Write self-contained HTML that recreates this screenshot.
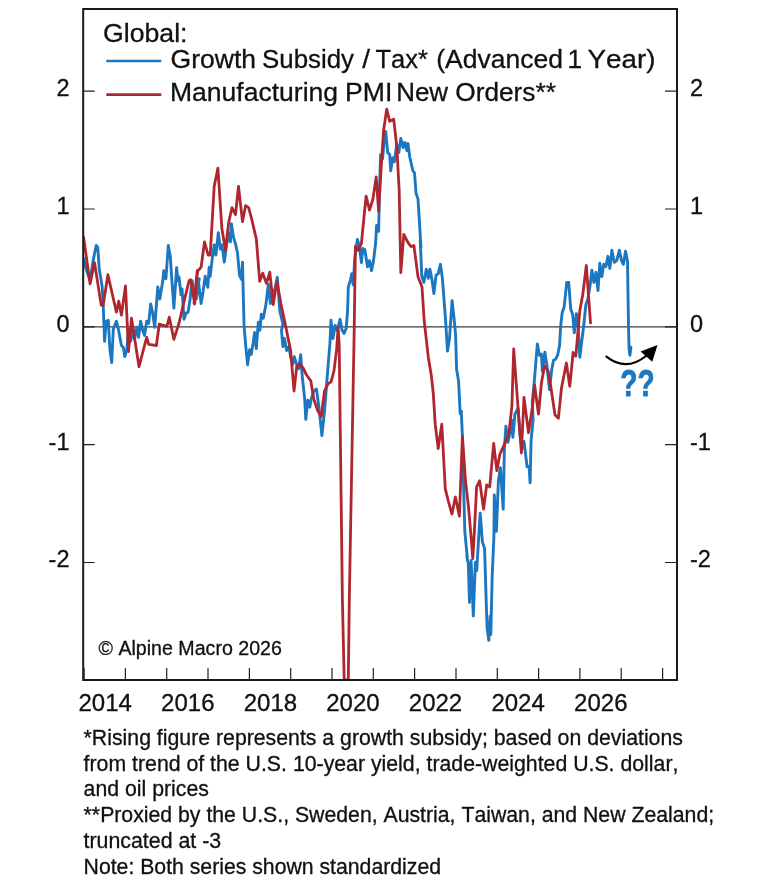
<!DOCTYPE html>
<html lang="en"><head><meta charset="utf-8"><title>Global Growth Subsidy / Tax vs Manufacturing PMI New Orders</title>
<style>html,body{margin:0;padding:0;background:#fff}body{width:768px;height:891px;overflow:hidden}</style></head>
<body>
<svg width="768" height="891" viewBox="0 0 768 891" style="display:block">
<rect width="768" height="891" fill="#fff"/>
<defs><clipPath id="cp"><rect x="83.2" y="9" width="593.8" height="671"/></clipPath></defs>
<line x1="83.2" y1="326.8" x2="677" y2="326.8" stroke="#3a3a3a" stroke-width="1.3"/>
<g clip-path="url(#cp)" fill="none" stroke-linejoin="round" stroke-linecap="round">
<path d="M83.6,258.6 L86.1,268.7 L90.1,280.8 L93.1,260.6 L96.2,245.5 L97.8,247.5 L99.2,268.7 L101.2,280.8 L102.2,286.9 L103.2,305.1 L103.8,321.2 L104.6,341.4 L106.3,321.2 L108.3,320.2 L109.9,349.5 L111.7,362.6 L113.3,329.3 L116.4,321.2 L118.4,329.3 L121.4,345.5 L123.4,347.5 L124.8,356.6 L126.9,349.5 L128.5,329.3 L130.5,341.4 L132.9,329.3 L134.5,339.4 L136.6,327.3 L138.6,337.4 L140.6,321.2 L143.0,331.3 L144.6,335.4 L146.7,321.2 L148.7,323.2 L150.7,304.0 L152.7,313.1 L154.7,327.3 L157.8,286.9 L159.8,299.0 L162.8,280.8 L163.8,270.7 L165.9,278.8 L168.3,245.5 L170.3,256.6 L171.9,280.8 L173.9,308.1 L176.6,267.7 L178.0,280.8 L179.0,276.8 L181.0,294.9 L182.0,288.9 L184.0,319.2 L186.1,313.1 L188.1,312.1 L190.1,299.0 L192.1,280.8 L194.1,294.9 L196.2,299.0 L199.2,278.8 L198.1,279.3 L201.1,303.5 L203.1,291.4 L205.2,276.3 L207.8,287.4 L209.2,267.2 L210.2,276.3 L212.2,259.1 L214.2,244.9 L215.9,255.1 L218.3,232.8 L220.3,249.0 L221.9,244.9 L224.3,262.1 L226.4,246.0 L228.4,232.8 L230.4,241.9 L231.4,223.7 L233.4,236.9 L235.5,243.9 L237.5,253.0 L239.5,275.3 L241.5,279.3 L242.5,262.1 L244.1,327.8 L244.1,326.4 L245.8,346.6 L247.6,364.7 L249.6,349.6 L251.2,354.6 L253.2,342.5 L254.6,332.4 L256.3,348.6 L258.3,322.3 L259.9,330.4 L261.3,314.2 L263.3,318.3 L266.0,304.1 L267.4,292.0 L268.4,284.3 L270.4,303.5 L272.4,291.4 L274.8,289.4 L277.3,277.3 L279.9,311.6 L282.9,323.7 L281.5,330.4 L282.9,346.6 L284.5,338.5 L286.6,350.6 L289.0,346.6 L290.6,356.7 L292.6,364.7 L294.2,356.7 L296.7,364.7 L298.7,368.8 L300.7,354.6 L302.3,376.9 L304.7,399.1 L305.8,419.3 L307.8,400.1 L309.8,407.2 L311.2,399.1 L313.8,391.0 L316.5,389.0 L318.9,407.2 L321.9,435.5 L324.5,411.2 L326.6,384.9 L328.0,366.8 L330.0,342.5 L331.0,320.3 L333.0,338.5 L335.1,325.4 L337.1,330.4 L340.1,319.3 L342.1,330.4 L344.1,333.4 L346.2,328.4 L347.6,310.2 L348.3,286.9 L350.3,280.8 L351.7,273.7 L353.3,284.8 L354.7,258.6 L357.4,239.4 L359.4,246.5 L361.4,262.6 L362.8,248.5 L364.8,249.5 L367.5,266.7 L369.5,260.6 L371.5,270.7 L373.5,260.6 L375.6,243.5 L376.6,225.4 L378.6,231.4 L379.6,187.0 L380.6,154.6 L382.6,158.7 L384.2,140.5 L385.7,131.4 L387.7,152.6 L389.7,154.6 L390.7,170.8 L392.7,157.7 L394.3,161.7 L396.8,144.5 L398.8,152.6 L400.8,138.5 L403.2,147.6 L404.8,142.5 L406.9,150.6 L407.9,143.5 L409.9,157.7 L412.9,170.8 L414.5,172.8 L416.0,193.0 L418.0,199.1 L419.4,221.3 L421.0,247.6 L420.2,240.0 L421.8,276.4 L423.8,282.4 L426.3,269.3 L428.3,278.4 L429.9,269.3 L431.9,279.4 L433.9,293.5 L436.0,275.4 L438.4,273.3 L440.4,264.2 L442.4,278.4 L445.5,318.8 L447.5,351.1 L449.5,339.0 L452.1,300.6 L454.1,318.8 L455.6,334.9 L456.6,369.3 L458.6,381.4 L460.2,413.7 L461.6,411.7 L460.0,410.1 L461.4,414.1 L462.4,436.4 L464.0,501.0 L464.8,531.3 L467.5,559.6 L466.9,557.0 L468.3,563.8 L469.5,602.5 L471.1,560.4 L473.3,616.0 L475.4,562.1 L476.7,570.5 L478.7,536.8 L480.2,513.1 L482.4,541.9 L484.6,548.6 L486.3,604.2 L487.1,627.7 L488.8,640.4 L490.2,616.0 L490.8,634.5 L492.2,575.6 L493.9,536.8 L494.3,494.9 L496.4,531.3 L498.4,480.8 L500.4,467.7 L503.2,509.1 L504.4,448.5 L505.9,426.3 L507.9,442.4 L509.9,433.3 L511.9,420.2 L512.9,437.4 L514.9,414.1 L518.0,408.1 L520.0,434.3 L522.0,448.5 L524.0,441.4 L527.1,466.7 L529.1,466.7 L530.1,482.8 L531.1,440.4 L533.1,420.2 L532.3,401.6 L534.3,381.4 L536.4,355.2 L537.4,344.0 L539.4,355.2 L541.4,354.1 L542.4,371.3 L544.8,352.1 L546.9,365.3 L549.5,389.5 L551.5,371.3 L553.5,360.2 L555.6,359.2 L557.6,355.2 L559.6,345.1 L560.6,326.9 L562.2,312.7 L564.2,306.7 L566.7,282.4 L568.7,282.4 L570.7,308.7 L572.7,314.7 L574.3,332.9 L576.4,313.7 L577.8,320.8 L579.8,357.2 L581.8,341.0 L583.8,324.8 L585.9,304.6 L587.9,298.6 L589.9,286.5 L591.9,270.3 L593.9,282.4 L596.0,272.3 L598.0,290.5 L599.8,263.3 L601.8,276.5 L603.8,264.3 L605.9,266.4 L607.9,256.3 L609.9,268.4 L611.9,250.2 L614.3,262.3 L616.8,260.3 L619.4,250.2 L621.4,260.3 L623.4,264.3 L625.5,251.2 L627.5,261.3 L628.5,327.0 L629.1,349.2 L629.9,355.3 L630.9,347.2" stroke="#1c77c0" stroke-width="2.9"/>
<path d="M83.6,237.4 L90.1,283.8 L94.5,262.6 L101.2,305.1 L103.2,305.1 L107.9,274.7 L116.4,312.1 L118.8,301.0 L121.4,315.2 L125.5,285.9 L128.5,351.5 L131.5,318.2 L139.0,366.7 L146.7,337.4 L148.7,344.4 L156.4,345.5 L159.2,324.2 L166.9,326.3 L169.3,317.2 L173.9,339.4 L179.0,323.2 L185.1,297.0 L189.1,280.8 L190.7,279.8 L194.7,304.0 L197.2,270.7 L194.0,303.5 L197.7,271.2 L201.1,267.2 L204.5,241.9 L208.2,255.1 L210.2,255.1 L214.2,186.4 L217.9,168.2 L221.9,228.8 L225.4,250.0 L228.8,221.7 L232.0,207.6 L235.5,214.6 L238.5,186.4 L242.5,221.7 L245.6,205.6 L248.6,207.6 L251.6,218.7 L256.3,238.9 L259.7,281.3 L262.7,273.2 L266.4,283.3 L269.8,272.2 L273.2,304.5 L276.9,281.3 L280.9,303.5 L286.0,327.8 L290.6,350.6 L294.0,391.0 L296.7,366.8 L299.7,363.7 L303.1,367.8 L306.4,374.8 L310.8,380.9 L313.8,399.1 L317.9,411.2 L321.3,416.3 L324.5,391.0 L328.0,383.9 L331.0,381.9 L334.0,370.8 L336.7,348.6 L338.1,327.4 L339.2,345.0 L342.4,600.0 L344.2,680.0 L348.3,680.0 L349.3,600.0 L354.2,330.0 L355.4,246.5 L358.4,250.5 L361.4,243.4 L366.1,196.1 L369.5,210.2 L372.9,199.1 L376.2,176.9 L378.6,211.2 L381.6,160.7 L383.6,130.4 L386.7,109.2 L389.7,121.3 L393.7,119.3 L396.8,146.6 L399.2,191.0 L400.8,272.7 L403.8,234.3 L407.9,242.4 L410.9,246.5 L413.9,245.5 L418.0,276.8 L422.0,286.9 L424.2,320.8 L428.3,357.2 L431.3,375.4 L433.3,393.5 L433.7,400.0 L435.2,424.2 L438.2,448.5 L441.8,424.2 L445.3,488.9 L448.3,501.0 L451.9,514.1 L455.4,497.0 L459.4,516.2 L462.4,436.4 L465.5,480.8 L468.5,507.1 L471.5,541.4 L472.8,558.7 L474.5,529.3 L476.6,486.9 L479.6,480.8 L483.6,509.1 L486.7,484.8 L489.7,486.9 L493.7,443.4 L496.8,470.7 L499.8,454.5 L504.8,443.4 L508.9,433.3 L511.9,406.1 L513.7,349.0 L518.4,412.5 L521.4,453.0 L524.0,397.4 L528.5,432.7 L532.5,406.5 L534.6,385.0 L538.5,414.0 L541.5,382.5 L544.5,366.0 L548.0,370.5 L551.0,388.0 L555.0,415.0 L558.4,418.2 L561.5,388.0 L566.4,363.0 L569.8,386.4 L573.1,352.5 L575.8,356.2 L579.8,310.7 L582.8,294.5 L586.3,265.3 L590.5,322.8" stroke="#b0262f" stroke-width="2.8"/>
</g>
<rect x="83.2" y="9" width="593.8" height="671" fill="none" stroke="#1a1a1a" stroke-width="2"/>
<path d="M83.2,91.1h11.5 M677,91.1h-12 M83.2,209.0h11.5 M677,209.0h-12 M83.2,326.8h11.5 M677,326.8h-12 M83.2,444.6h11.5 M677,444.6h-12 M83.2,562.5h11.5 M677,562.5h-12 M84.1,680v-12 M125.4,680v-12 M166.7,680v-12 M208.0,680v-12 M249.4,680v-12 M290.7,680v-12 M332.0,680v-12 M373.3,680v-12 M414.6,680v-12 M456.0,680v-12 M497.3,680v-12 M538.6,680v-12 M579.9,680v-12 M621.2,680v-12 M662.6,680v-12" stroke="#222" stroke-width="1.2" fill="none"/>
<g font-family="'Liberation Sans', Arial, sans-serif" fill="#111" stroke="#111" stroke-width="0.3" style="font-kerning:none">
<g font-size="23.5">
<text x="69.5" y="96.0" text-anchor="end">2</text>
<text x="690" y="96.0">2</text>
<text x="69.5" y="213.9" text-anchor="end">1</text>
<text x="690" y="213.9">1</text>
<text x="69.5" y="331.7" text-anchor="end">0</text>
<text x="690" y="331.7">0</text>
<text x="69.5" y="449.5" text-anchor="end">-1</text>
<text x="690" y="449.5">-1</text>
<text x="69.5" y="567.4" text-anchor="end">-2</text>
<text x="690" y="567.4">-2</text>
<text x="105.2" y="711.2" text-anchor="middle" textLength="53.4" lengthAdjust="spacingAndGlyphs">2014</text>
<text x="187.8" y="711.2" text-anchor="middle" textLength="53.4" lengthAdjust="spacingAndGlyphs">2016</text>
<text x="270.4" y="711.2" text-anchor="middle" textLength="53.4" lengthAdjust="spacingAndGlyphs">2018</text>
<text x="352.9" y="711.2" text-anchor="middle" textLength="53.4" lengthAdjust="spacingAndGlyphs">2020</text>
<text x="435.5" y="711.2" text-anchor="middle" textLength="53.4" lengthAdjust="spacingAndGlyphs">2022</text>
<text x="518.1" y="711.2" text-anchor="middle" textLength="53.4" lengthAdjust="spacingAndGlyphs">2024</text>
<text x="600.8" y="711.2" text-anchor="middle" textLength="53.4" lengthAdjust="spacingAndGlyphs">2026</text>
</g>
<text x="103" y="41.7" font-size="26.2" textLength="84.5" lengthAdjust="spacingAndGlyphs">Global:</text>
<text x="170.5" y="67.7" font-size="26.2" textLength="85.5" lengthAdjust="spacingAndGlyphs">Growth</text>
<text x="262.0" y="67.7" font-size="26.2" textLength="92.0" lengthAdjust="spacingAndGlyphs">Subsidy</text>
<text x="362.2" y="67.7" font-size="26.2" textLength="7.8" lengthAdjust="spacingAndGlyphs">/</text>
<text x="375.5" y="67.7" font-size="26.2" textLength="52.4" lengthAdjust="spacingAndGlyphs">Tax*</text>
<text x="436.3" y="67.7" font-size="26.2" textLength="126.6" lengthAdjust="spacingAndGlyphs">(Advanced</text>
<text x="567.6" y="67.7" font-size="26.2" textLength="14.6" lengthAdjust="spacingAndGlyphs">1</text>
<text x="587.5" y="67.7" font-size="26.2" textLength="68.0" lengthAdjust="spacingAndGlyphs">Year)</text>
<text x="170.0" y="100.8" font-size="26.2" textLength="168.1" lengthAdjust="spacingAndGlyphs">Manufacturing</text>
<text x="345.1" y="100.8" font-size="26.2" textLength="47.3" lengthAdjust="spacingAndGlyphs">PMI</text>
<text x="396.2" y="100.8" font-size="26.2" textLength="51.9" lengthAdjust="spacingAndGlyphs">New</text>
<text x="455.3" y="100.8" font-size="26.2" textLength="100.6" lengthAdjust="spacingAndGlyphs">Orders**</text>
<text x="98.5" y="654.5" font-size="19.6" textLength="183.4" lengthAdjust="spacingAndGlyphs">© Alpine Macro 2026</text>
<text x="83.6" y="744.6" font-size="21.2" textLength="599.3" lengthAdjust="spacingAndGlyphs">*Rising figure represents a growth subsidy; based on deviations</text>
<text x="83.6" y="770.5" font-size="21.2" textLength="594.8" lengthAdjust="spacingAndGlyphs">from trend of the U.S. 10-year yield, trade-weighted U.S. dollar,</text>
<text x="83.6" y="796.3" font-size="21.2" textLength="125.3" lengthAdjust="spacingAndGlyphs">and oil prices</text>
<text x="83.6" y="822.2" font-size="21.2" textLength="630.5" lengthAdjust="spacingAndGlyphs">**Proxied by the U.S., Sweden, Austria, Taiwan, and New Zealand;</text>
<text x="83.6" y="848.1" font-size="21.2" textLength="137.5" lengthAdjust="spacingAndGlyphs">truncated at -3</text>
<text x="83.6" y="874.0" font-size="21.2" textLength="357.4" lengthAdjust="spacingAndGlyphs">Note: Both series shown standardized</text>
</g>
<line x1="106.3" y1="61" x2="161.3" y2="61" stroke="#1c77c0" stroke-width="2.7"/>
<line x1="106.3" y1="94.6" x2="161.3" y2="94.6" stroke="#b0262f" stroke-width="2.7"/>
<path d="M606.4,356.6 Q626,372 646,356" fill="none" stroke="#000" stroke-width="2.2" stroke-linecap="round"/>
<path d="M657.5,345.1 L640.6,351.4 L652.3,361.8 Z" fill="#000"/>
<text x="637.4" y="396" text-anchor="middle" font-family="'Liberation Sans', Arial, sans-serif" font-weight="bold" font-size="37.5" fill="#1c77c0" stroke="#1c77c0" stroke-width="0.9" stroke-linejoin="round" textLength="34.3" lengthAdjust="spacingAndGlyphs">??</text>
</svg>
</body></html>
